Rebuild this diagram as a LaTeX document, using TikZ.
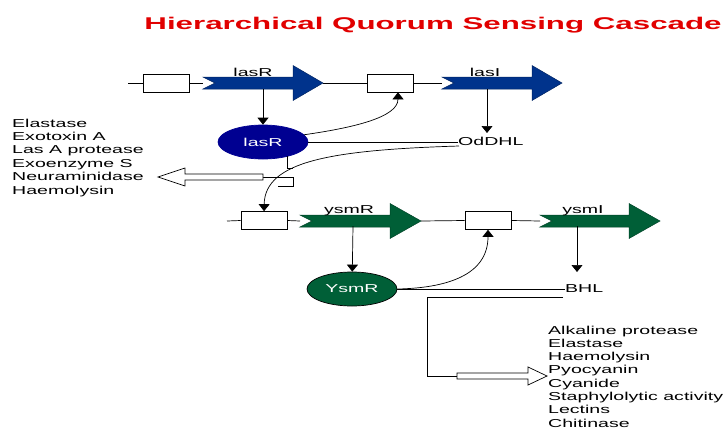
\documentclass[tikz,border=0pt]{standalone}
\usepackage{fontspec}
\setmainfont[FakeStretch=1.7]{Liberation Sans}
\newfontfamily\titlefont[FakeStretch=1.84]{Liberation Sans}
\usetikzlibrary{shapes.geometric,arrows.meta}

\definecolor{geneblue}{RGB}{0,51,140}
\definecolor{protblue}{RGB}{0,0,145}
\definecolor{genegreen}{RGB}{0,95,55}
\definecolor{titlered}{RGB}{225,0,0}

\tikzset{
	txt/.style={font=\fontsize{11.5}{13.4}\selectfont, inner sep=0pt},
	promoter/.style={draw, fill=white, line width=0.7pt, minimum width=46pt, minimum height=18pt, inner sep=0pt},
	protein/.style={ellipse, draw, line width=0.7pt, minimum width=90pt, minimum height=34pt, inner sep=0pt},
	link/.style={line width=0.7pt},
	push/.style={link, -{Triangle[width=11pt,length=7pt]}},
	outarrow/.style={draw, fill=white, line width=0.7pt}
}

% gene arrow: tail x, head base x, tip x, y, colour
\newcommand\genearrow[5]{%
	\filldraw[fill=#5, draw=#5!70!black, line width=0.5pt]
		({#1},{#4+6}) -- ({#1+12},{#4}) -- ({#1},{#4-6}) -- ({#2},{#4-6})
		-- ({#2},{#4-17.5}) -- ({#3},{#4}) -- ({#2},{#4+17.5}) -- ({#2},{#4+6}) -- cycle;}

\begin{document}
\begin{tikzpicture}[x=1pt,y=1pt]
	\useasboundingbox (0,0) rectangle (725,-429);

	\node[anchor=base, inner sep=0pt, text=titlered,
		font=\titlefont\bfseries\fontsize{17}{20}\selectfont] (title) at (433,-29)
		{Hierarchical Quorum Sensing Cascade};

	% las system
	\coordinate (lasRin) at (128,-83);
	\coordinate (lasRtail) at (203,-83);
	\coordinate (lasRtip) at (323,-83);
	\coordinate (lasItail) at (442,-83);
	\node[promoter] (lasRbox) at (166,-83) {};
	\node[promoter] (lasIbox) at (390,-83) {};
	\draw[link] (lasRin) -- (lasRbox.west);
	\draw[link] (lasRbox.east) -- (lasRtail);
	\draw[link] (lasRtip) -- (lasIbox.west);
	\draw[link] (lasIbox.east) -- (lasItail);
	\genearrow{203}{293}{323}{-83}{geneblue}
	\genearrow{442}{532}{562}{-83}{geneblue}
	\node[txt, anchor=base] (lasRname) at (253,-76) {lasR};
	\node[txt, anchor=base] (lasIname) at (485,-76) {lasI};

	\coordinate (lasRgene) at (263,-89);
	\coordinate (lasIgene) at (487,-89);
	\coordinate (lasIend) at (487,-133);
	\node[protein, fill=protblue, draw=protblue] (lasRp) at (263,-142) {};
	\node[txt, text=white] (lasRlbl) at (lasRp) {lasR};
	\node[txt, anchor=base west] (OdDHL) at (458,-145) {OdDHL};
	\draw[push] (lasRgene) -- (lasRp);
	\draw[push] (lasIgene) -- (lasIend);
	\draw[link] (lasRp.east) -- (lasRp.east -| OdDHL.west);
	\draw[push] (lasRp.10) .. controls +(49,7) and +(0,-25) .. ([xshift=8pt]lasIbox.south);

	% las targets
	\coordinate (lasRfoot) at (287,-156);
	\coordinate (effTail) at (263,-177);
	\draw[link] (lasRfoot) -- ++(0,-12) -- ++(6,0);
	\draw[link] (effTail) -- ++(30,0) -- ++(0,-9) -- ++(-15,0);
	\filldraw[outarrow] (263,-174) -- (185,-174) -- (185,-168) -- (158,-177)
		-- (185,-186) -- (185,-180) -- (263,-180) -- cycle;
	\foreach \t [count=\i] in {Elastase, Exotoxin A, Las A protease, Exoenzyme S, Neuraminidase, Haemolysin}
		\node[txt, anchor=base west] (eff\i) at (12,{-127-13.4*(\i-1)}) {\t};

	% ysm system
	\coordinate (ysmRin) at (227,-221);
	\coordinate (ysmRtail) at (300,-221);
	\coordinate (ysmRtip) at (421,-221);
	\coordinate (ysmItail) at (540,-221);
	\node[promoter] (ysmRbox) at (264,-220.5) {};
	\node[promoter] (ysmIbox) at (488,-220.5) {};
	\draw[link] (ysmRin) -- (ysmRbox.west);
	\draw[link] (ysmRbox.east) -- (ysmRtail);
	\draw[link] (ysmRtip) -- (ysmIbox.west);
	\draw[link] (ysmIbox.east) -- (ysmItail);
	\genearrow{300}{390}{421}{-221}{genegreen}
	\genearrow{540}{629}{660}{-221}{genegreen}
	\node[txt, anchor=base] (ysmRname) at (349,-213) {ysmR};
	\node[txt, anchor=base] (ysmIname) at (583,-213) {ysmI};

	\coordinate (OdDHLfoot) at (459,-146);
	\draw[push] (OdDHLfoot) .. controls +(-128,-4) and +(1,50) .. (ysmRbox.north);

	\coordinate (ysmRgene) at (353,-226);
	\coordinate (ysmIgene) at (577,-226);
	\coordinate (ysmIend) at (577,-272);
	\node[protein, fill=genegreen, draw=black] (YsmRp) at (352,-289) {};
	\node[txt, text=white] (YsmRlbl) at (YsmRp) {YsmR};
	\node[txt, anchor=base west] (BHL) at (565,-292) {BHL};
	\draw[push] (ysmRgene) -- (YsmRp);
	\draw[push] (ysmIgene) -- (ysmIend);
	\draw[link] (YsmRp.east) -- (YsmRp.east -| BHL.west);
	\draw[push] (YsmRp.east) .. controls +(48,1) and +(0,-46) .. (ysmIbox.south);

	% ysm targets
	\coordinate (BHLfoot) at (563,-297);
	\coordinate (qsTail) at (457,-376);
	\draw[link] (BHLfoot) -- (427,-297) |- (qsTail);
	\filldraw[outarrow] (457,-373) -- (528,-373) -- (528,-367) -- (547,-376)
		-- (528,-385) -- (528,-379) -- (457,-379) -- cycle;
	\foreach \t [count=\i] in {Alkaline protease, Elastase, Haemolysin, Pyocyanin, Cyanide,
		Staphylolytic activity, Lectins, Chitinase}
		\node[txt, anchor=base west] (qs\i) at (548,{-334-13.3*(\i-1)}) {\t};

\end{tikzpicture}
\end{document}
